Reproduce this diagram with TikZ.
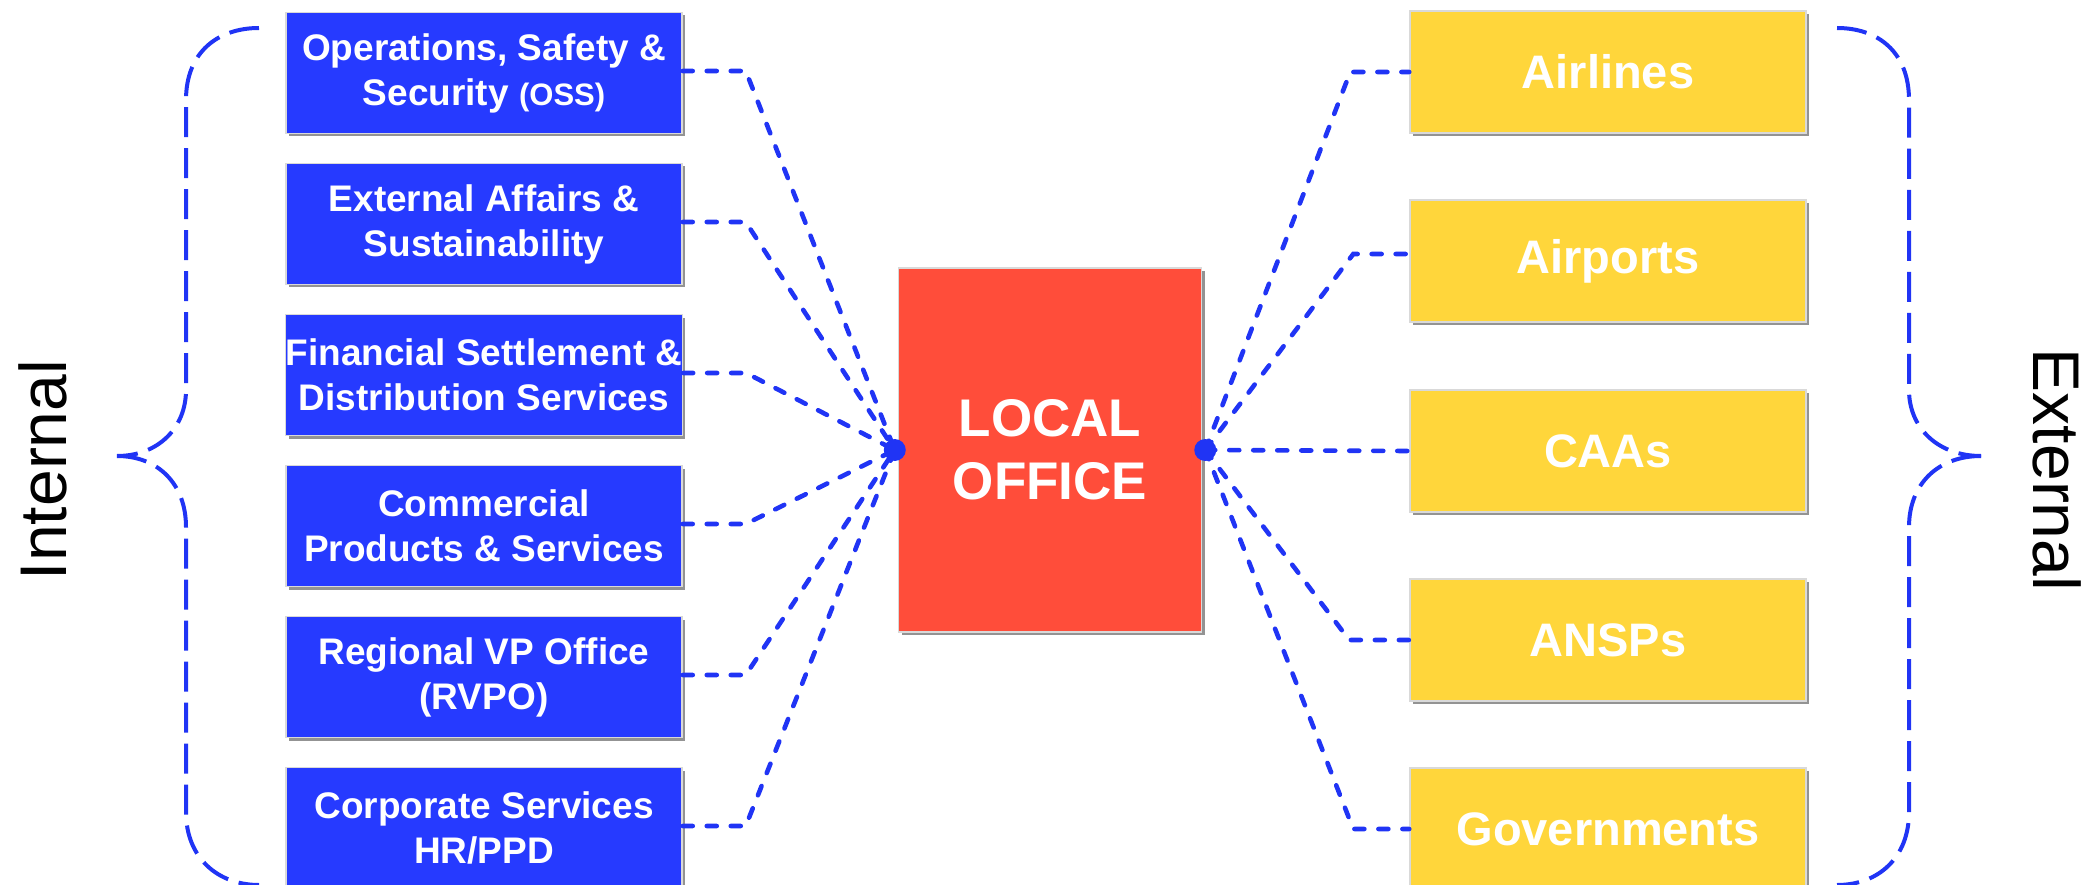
\documentclass[tikz,border=0pt]{standalone}
\usepackage{fontspec}
\setmainfont{Liberation Sans}
\usetikzlibrary{shadows}
\definecolor{boxblue}{RGB}{38,58,255}
\definecolor{boxred}{RGB}{255,77,58}
\definecolor{boxyellow}{RGB}{255,214,59}
\definecolor{lineblue}{RGB}{32,52,245}
\begin{document}
\begin{tikzpicture}[x=1pt,y=-1pt,
  basebox/.style={draw=gray!30, line width=1.5pt, inner sep=0pt, align=center, text=white,
    drop shadow={shadow xshift=3pt, shadow yshift=-3pt, fill=gray!85, opacity=1}},
  inbox/.style={basebox, fill=boxblue, minimum width=396pt, minimum height=121pt,
    font=\bfseries\fontsize{37}{45}\selectfont},
  exbox/.style={basebox, fill=boxyellow, minimum width=396pt, minimum height=122pt,
    font=\bfseries\fontsize{47}{55}\selectfont},
  officebox/.style={basebox, fill=boxred, minimum width=303pt, minimum height=364pt,
    font=\bfseries\fontsize{53}{63}\selectfont},
  conn/.style={draw=lineblue, line width=4.6pt, line cap=round, dash pattern=on 10pt off 14pt},
  bracestyle/.style={draw=lineblue, line width=4pt, dash pattern=on 30pt off 11pt},
  hubdot/.style={circle, fill=lineblue, inner sep=0pt, minimum size=22pt},
  sidelabel/.style={font=\fontsize{66}{66}\selectfont, text=black, inner sep=0pt}
]
\useasboundingbox (0,0) rectangle (2085,885);

% internal boxes
\node[inbox] (in1) at (484,73)  {Operations, Safety \&\\Security {\fontsize{31}{45}\selectfont(OSS)}};
\node[inbox] (in2) at (484,224) {External Affairs \&\\Sustainability};
\node[inbox] (in3) at (484,375) {Financial Settlement \&\\Distribution Services};
\node[inbox] (in4) at (484,526) {Commercial\\Products \& Services};
\node[inbox] (in5) at (484,677) {Regional VP Office\\(RVPO)};
\node[inbox] (in6) at (484,828) {Corporate Services\\HR/PPD};

% central office
\node[officebox] (office) at (1050,450) {LOCAL\\OFFICE};

% external boxes
\node[exbox] (ex1) at (1608,72)  {Airlines};
\node[exbox] (ex2) at (1608,261) {Airports};
\node[exbox] (ex3) at (1608,451) {CAAs};
\node[exbox] (ex4) at (1608,640) {ANSPs};
\node[exbox] (ex5) at (1608,829) {Governments};

% internal connectors
\foreach \i in {1,...,6}{
  \draw[conn] ([yshift=2pt]in\i.east) -- ([xshift=63pt,yshift=2pt]in\i.east) -- ([xshift=-3pt]office.west);
}

% external connectors
\draw[conn] ([xshift=3pt]office.east) -- ([xshift=-59pt]ex1.west) -- (ex1.west);
\draw[conn] ([xshift=3pt]office.east) -- ([xshift=-56pt,yshift=7pt]ex2.west) -- ([yshift=7pt]ex2.west);
\draw[conn] ([xshift=3pt]office.east) -- (ex3.west);
\draw[conn] ([xshift=3pt]office.east) -- ([xshift=-60pt]ex4.west) -- (ex4.west);
\draw[conn] ([xshift=3pt]office.east) -- ([xshift=-56pt]ex5.west) -- (ex5.west);

% hub dots
\node[hubdot] (hubL) at ([xshift=-3pt]office.west) {};
\node[hubdot] (hubR) at ([xshift=3pt]office.east) {};

% braces
\coordinate (tipL) at (117,456);
\coordinate (tipR) at (1981,456);
\draw[bracestyle] (259,28) .. controls (218,28) and (186,52) .. (186,100) -- (186,390)
  .. controls (186,428) and (158,456) .. (tipL);
\draw[bracestyle] (tipL) .. controls (158,456) and (186,484) .. (186,527) -- (186,812)
  .. controls (186,858) and (218,885) .. (259,885);
\draw[bracestyle] (1837,28) .. controls (1878,28) and (1909,52) .. (1909,100) -- (1909,390)
  .. controls (1909,428) and (1938,456) .. (tipR);
\draw[bracestyle] (tipR) .. controls (1938,456) and (1909,484) .. (1909,527) -- (1909,812)
  .. controls (1909,858) and (1878,885) .. (1837,885);

% side labels
\node[sidelabel, rotate=90] (lblI) at (43,470) {Internal};
\node[sidelabel, rotate=-90] (lblE) at (2057,470) {External};
\end{tikzpicture}
\end{document}
